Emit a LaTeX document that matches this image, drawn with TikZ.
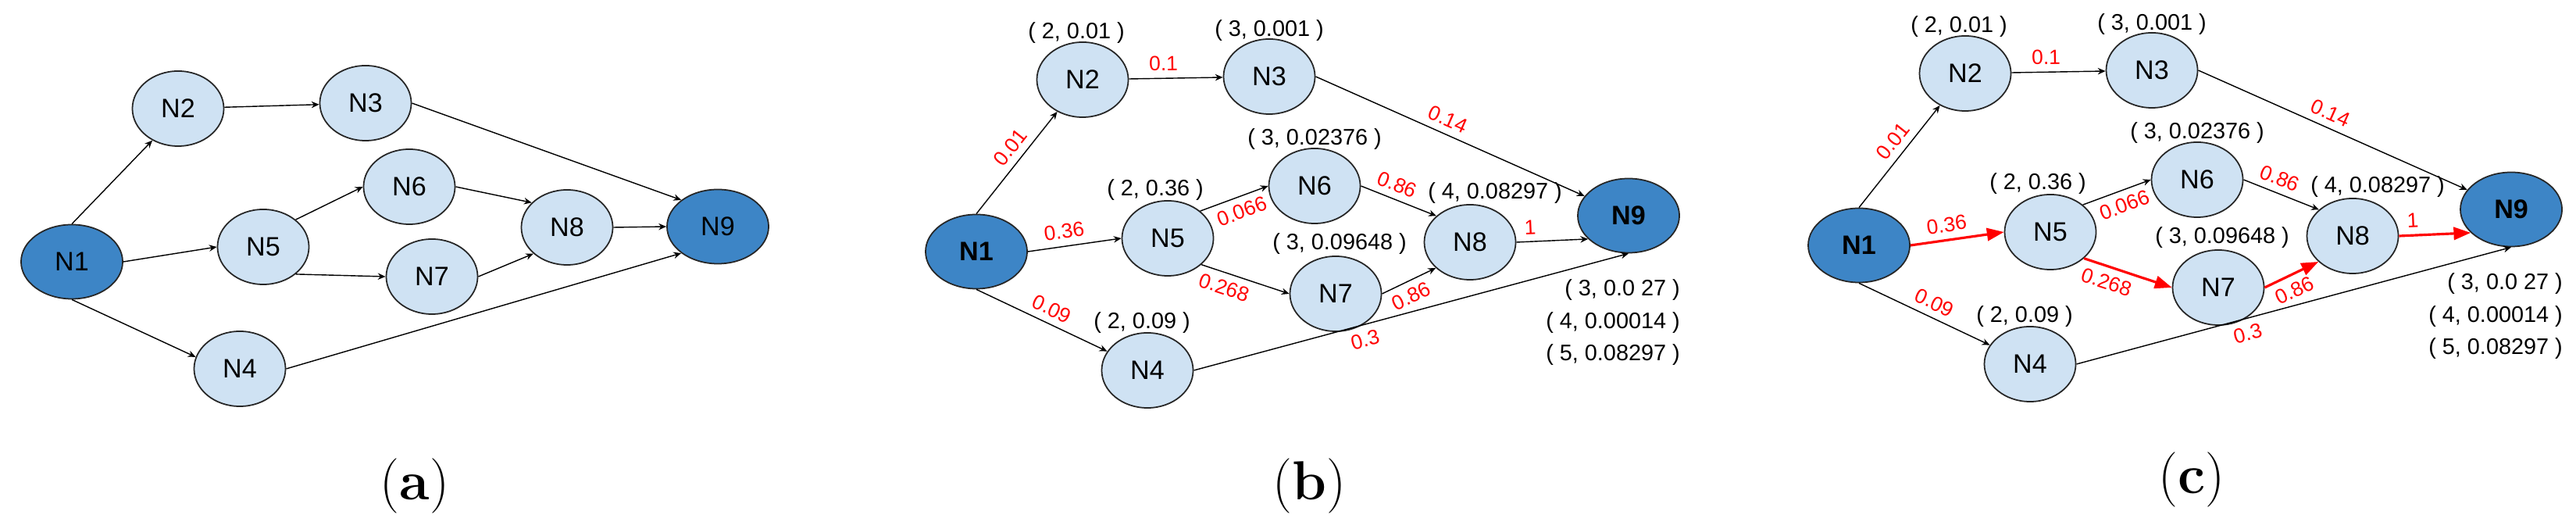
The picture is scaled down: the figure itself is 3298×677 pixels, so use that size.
\documentclass[tikz,border=0pt]{standalone}
\usepackage{fontspec}
\setsansfont{Liberation Sans}
\usetikzlibrary{shapes.geometric,arrows.meta}
\definecolor{nodeblue}{HTML}{CFE2F3}
\definecolor{rootblue}{HTML}{3D85C6}
\tikzset{
  vertex/.style={ellipse, draw=black!85, line width=0.5pt, fill=nodeblue, inner sep=0pt,
    minimum width=1.17cm, minimum height=0.96cm, font=\sffamily\fontsize{9.7}{10}\selectfont},
  endvertex/.style={vertex, fill=rootblue, minimum width=1.3cm, minimum height=0.95cm},
  weight/.style={red, sloped, inner sep=2.5pt, font=\sffamily\fontsize{7.5}{8}\selectfont},
  tuple/.style={inner sep=1pt, font=\sffamily\fontsize{8.2}{11.8}\selectfont},
  plainedge/.style={->},
  hotedge/.style={draw=red, line width=0.9pt, -{Triangle[length=6.2pt,width=4.6pt]}},
  panelcap/.style={font=\fontsize{20}{24}\selectfont}
}
\begin{document}
\begin{tikzpicture}[x=0.01cm, y=-0.01cm, >={Stealth[length=2.8pt,width=2.4pt]}, line width=0.4pt]
\useasboundingbox (0,0) rectangle (3298,677);
% (a) the plain network
\node[endvertex] (a1) at (92,335) {N1};
\node[vertex] (a2) at (228,139) {N2};
\node[vertex] (a3) at (468,132) {N3};
\node[vertex] (a4) at (307,472) {N4};
\node[vertex] (a5) at (337,316) {N5};
\node[vertex] (a6) at (524,239) {N6};
\node[vertex] (a7) at (553,354) {N7};
\node[vertex] (a8) at (726,291) {N8};
\node[endvertex] (a9) at (919,290) {N9};
\draw[->] (a1.north) -- (a2.231);
\draw[->] (a2) -- (a3);
\draw[->] (a3.east) -- (a9.144);
\draw[->] (a1.east) -- (a5.west);
\draw[->] (a5.40) -- (a6.west);
\draw[->] (a5.-40) -- (a7.west);
\draw[->] (a6.east) -- (a8.145);
\draw[->] (a7.east) -- (a8.218);
\draw[->] (a8.east) -- (a9.west);
\draw[->] (a1.south) -- (a4.165);
\draw[->] (a4.east) -- (a9.216);
\node[panelcap] (acap) at (531,622) {(\textbf{a})};
% (b) weights and labels, (c) the same with the chosen path
\foreach \p/\sx/\sy/\hs in {b/0/0/plainedge, c/1130/-8/hotedge} {
\begin{scope}[shift={(\sx,\sy)}]
\node[endvertex] (\p1) at (1250,322) {\textbf{N1}};
\node[vertex] (\p2) at (1386,102) {N2};
\node[vertex] (\p3) at (1625,98) {N3};
\node[vertex] (\p4) at (1469,474) {N4};
\node[vertex] (\p5) at (1495,305) {N5};
\node[vertex] (\p6) at (1683,238) {N6};
\node[vertex] (\p7) at (1710,376) {N7};
\node[vertex] (\p8) at (1882,310) {N8};
\node[endvertex] (\p9) at (2085,276) {\textbf{N9}};
\draw[->] (\p1.north) -- node[weight, above, pos=0.56] {0.01} (\p2);
\draw[->] (\p2) -- node[weight, above, pos=0.37] {0.1} (\p3);
\draw[->] (\p3.east) -- node[weight, above, pos=0.47] {0.14} (\p9);
\draw[\hs] (\p1.east) -- node[weight, above, pos=0.41] {0.36} (\p5.west);
\draw[->] (\p5.40) -- node[weight, below, pos=0.54] {0.066} (\p6.west);
\draw[\hs] (\p5.-38) -- node[weight, below, pos=0.31] {0.268} (\p7.west);
\draw[->] (\p6.east) -- node[weight, above, pos=0.41] {0.86} (\p8.142);
\draw[\hs] (\p7.east) -- node[weight, below, pos=0.43] {0.86} (\p8.217);
\draw[\hs] (\p8.east) -- node[weight, above, pos=0.2] {1} (\p9.210);
\draw[->] (\p1.south) -- node[weight, above, pos=0.53] {0.09} (\p4);
\draw[->] (\p4.east) -- node[weight, below, pos=0.385] {0.3} (\p9.south);
\node[tuple] (\p2t) at (1378,42) {( 2, 0.01 )};
\node[tuple] (\p3t) at (1625,39) {( 3, 0.001 )};
\node[tuple] (\p6t) at (1683,178) {( 3, 0.02376 )};
\node[tuple] (\p5t) at (1479,243) {( 2, 0.36 )};
\node[tuple] (\p8t) at (1914,247) {( 4, 0.08297 )};
\node[tuple] (\p7t) at (1715,312) {( 3, 0.09648 )};
\node[tuple] (\p4t) at (1462,413) {( 2, 0.09 )};
\node[tuple, align=right, anchor=east] (\p9t) at (2155,413)
  {( 3, 0.0 27 )\\( 4, 0.00014 )\\( 5, 0.08297 )};
\node[panelcap] (\p cap) at (1676,622) {(\textbf{\p})};
\end{scope}
}
\end{tikzpicture}
\end{document}
